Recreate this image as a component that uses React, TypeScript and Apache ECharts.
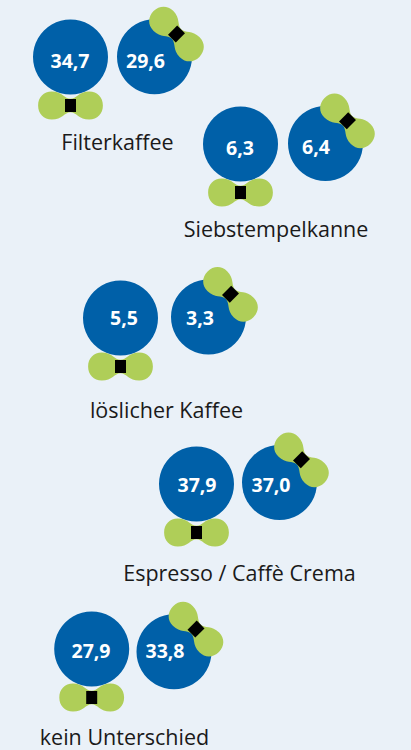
import React, { useEffect, useRef } from "react";
import * as echarts from "echarts";

const categories = ["Filterkaffee", "Siebstempelkanne", "löslicher Kaffee", "Espresso / Caffè Crema", "kein Unterschied"];
const leftValues = ["34,7", "6,3", "5,5", "37,9", "27,9"];
const rightValues = ["29,6", "6,4", "3,3", "37,0", "33,8"];

// Layout only: circle centres, value-label centres, category-label centres
const leftCentres = [[70.5, 57], [240.5, 144], [120.5, 318], [196.5, 484], [91.7, 649]];
const rightCentres = [[154.5, 56.7], [325.5, 143.5], [208.5, 317], [279.5, 482.5], [174, 651.8]];
const leftLabels = [[70, 60.5], [240, 147], [124, 317.5], [197, 484.5], [91, 650.5]];
const rightLabels = [[145.5, 60], [316, 146.5], [200, 317], [271, 484.5], [165, 650.5]];
const categoryCentres = [[117.5, 141.5], [276, 228.5], [166.5, 409.5], [239.5, 572.5], [124.5, 736]];

const BOW = "M0,-6.5 C6,-6.5 8,-13.7 18.5,-13.7 C26.5,-13.7 32,-8 32,0 C32,8 26.5,13.7 18.5,13.7 C8,13.7 6,6.5 0,6.5 C-6,6.5 -8,13.7 -18.5,13.7 C-26.5,13.7 -32,8 -32,0 C-32,-8 -26.5,-13.7 -18.5,-13.7 C-8,-13.7 -6,-6.5 0,-6.5 Z";
const BLUE = "#0060a8";
const GREEN = "#afce58";

function bow(cx: number, cy: number, rotation: number) {
  return [
    { type: "path", x: cx, y: cy, rotation, shape: { pathData: BOW, x: -32.4, y: -14, width: 64.8, height: 28, layout: "cover" }, style: { fill: GREEN } },
    { type: "rect", x: cx, y: cy, rotation, shape: { x: -5.5, y: -6.5, width: 11, height: 13 }, style: { fill: "#000" } },
  ];
}

const cupData = [
  ...leftCentres.map((c, i) => [c[0], c[1], leftLabels[i][0], leftLabels[i][1], leftValues[i], 0]),
  ...rightCentres.map((c, i) => [c[0], c[1], rightLabels[i][0], rightLabels[i][1], rightValues[i], 1]),
];

export default function App() {
  const ref = useRef<HTMLDivElement>(null);
  useEffect(() => {
    document.body.style.margin = "0";
    const chart = echarts.init(ref.current!, undefined, { renderer: "svg" });
    chart.setOption({
      animation: false,
      backgroundColor: "#eaf1f8",
      grid: { left: 0, right: 0, top: 0, bottom: 0 },
      xAxis: { type: "value", min: 0, max: 411, show: false },
      yAxis: { type: "value", min: 0, max: 750, inverse: true, show: false },
      series: [
        {
          type: "custom",
          coordinateSystem: "cartesian2d",
          clip: false,
          data: cupData,
          encode: { x: 0, y: 1 },
          renderItem: (_p: any, api: any) => {
            const c = api.coord([api.value(0), api.value(1)]);
            const l = api.coord([api.value(2), api.value(3)]);
            const right = api.value(5) === 1;
            const tie = right ? bow(c[0] + 22, c[1] - 22.7, -Math.PI / 4) : bow(c[0], c[1] + 48.5, 0);
            return {
              type: "group",
              children: [
                { type: "circle", shape: { cx: c[0], cy: c[1], r: 37.5 }, style: { fill: BLUE } },
                ...tie,
                {
                  type: "text",
                  x: l[0],
                  y: l[1],
                  style: {
                    text: String(api.value(4)),
                    fill: "#fff",
                    font: '700 19.5px "Open Sans"',
                    align: "center",
                    verticalAlign: "middle",
                  },
                },
              ],
            };
          },
        },
        {
          type: "custom",
          coordinateSystem: "cartesian2d",
          clip: false,
          data: categories.map((n, i) => [categoryCentres[i][0], categoryCentres[i][1], n]),
          encode: { x: 0, y: 1 },
          renderItem: (_p: any, api: any) => {
            const c = api.coord([api.value(0), api.value(1)]);
            return {
              type: "text",
              x: c[0],
              y: c[1],
              style: {
                text: String(api.value(2)),
                fill: "#1a1a1a",
                font: '400 21.5px "Open Sans"',
                lineHeight: 22,
                align: "center",
                verticalAlign: "middle",
              },
            };
          },
        },
      ],
    });
    return () => chart.dispose();
  }, []);
  return <div ref={ref} style={{ width: 411, height: 750 }} />;
}
